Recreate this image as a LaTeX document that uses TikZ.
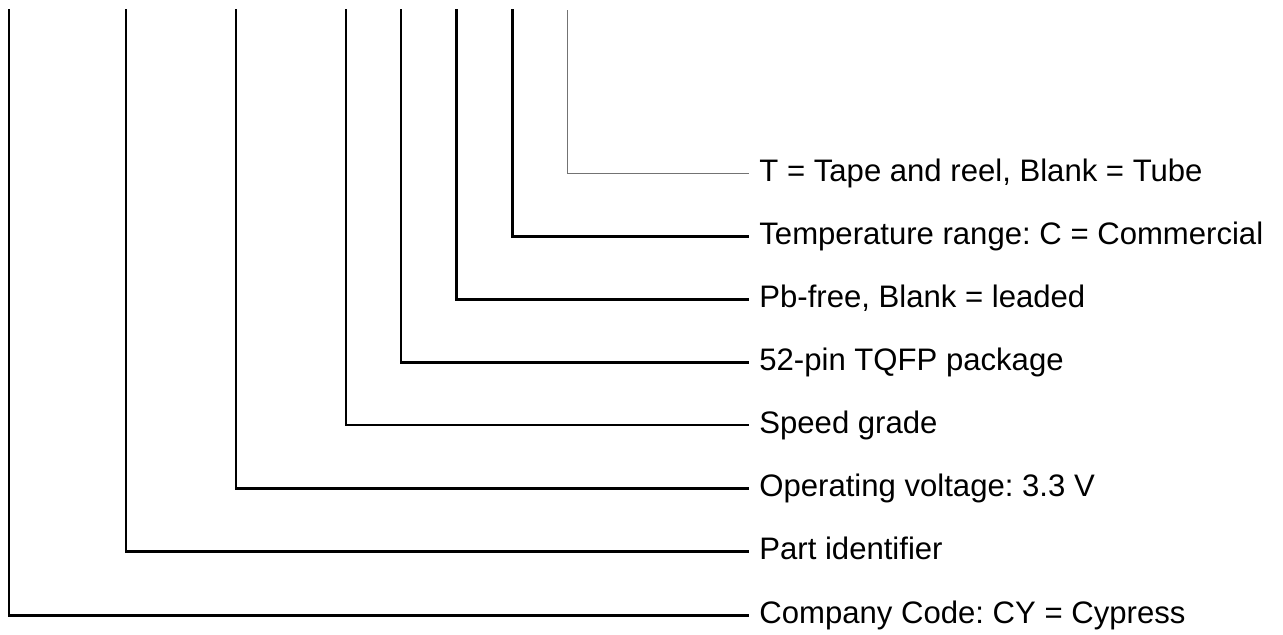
\documentclass[tikz,border=0pt]{standalone}
\usepackage{fontspec}
\setmainfont{Liberation Sans}
\frenchspacing
\begin{document}
\begin{tikzpicture}[x=0.5pt,y=-0.5pt,
  lead/.style={draw=black,line width=1.4pt},
  leadthin/.style={draw=black!55,line width=0.5pt},
  lbl/.style={anchor=west,inner xsep=5pt,inner ysep=0pt,
    font=\fontsize{15.55}{18}\selectfont\frenchspacing,text height=11.3pt,text depth=3.25pt}]
\useasboundingbox (0,0) rectangle (1283,635);
% top ends of the leads
\coordinate (t1) at (9,9.5);
\coordinate (t2) at (126,9.5);
\coordinate (t3) at (236,9.5);
\coordinate (t4) at (346,9.5);
\coordinate (t5) at (401,9.5);
\coordinate (t6) at (456.7,9.5);
\coordinate (t7) at (512.3,9.5);
\coordinate (t8) at (567.7,10.5);
% labels
\node[lbl] (l8) at (749,173.3) {T = Tape and reel, Blank = Tube};
\node[lbl] (l7) at (749,236.7) {Temperature range: C = Commercial};
\node[lbl] (l6) at (749,299.3) {Pb-free, Blank = leaded};
\node[lbl] (l5) at (749,362.3) {52-pin TQFP package};
\node[lbl] (l4) at (749,425) {Speed grade};
\node[lbl] (l3) at (749,488.3) {Operating voltage: 3.3 V};
\node[lbl] (l2) at (749,551.7) {Part identifier};
\node[lbl] (l1) at (749,615.7) {Company Code: CY = Cypress};
% connectors
\draw[lead] (t1) |- (l1.west);
\draw[lead] (t2) |- (l2.west);
\draw[lead] (t3) |- (l3.west);
\draw[lead] (t4) |- (l4.west);
\draw[lead] (t5) |- (l5.west);
\draw[lead] (t6) |- (l6.west);
\draw[lead] (t7) |- (l7.west);
\draw[leadthin] (t8) |- (l8.west);
\end{tikzpicture}
\end{document}
